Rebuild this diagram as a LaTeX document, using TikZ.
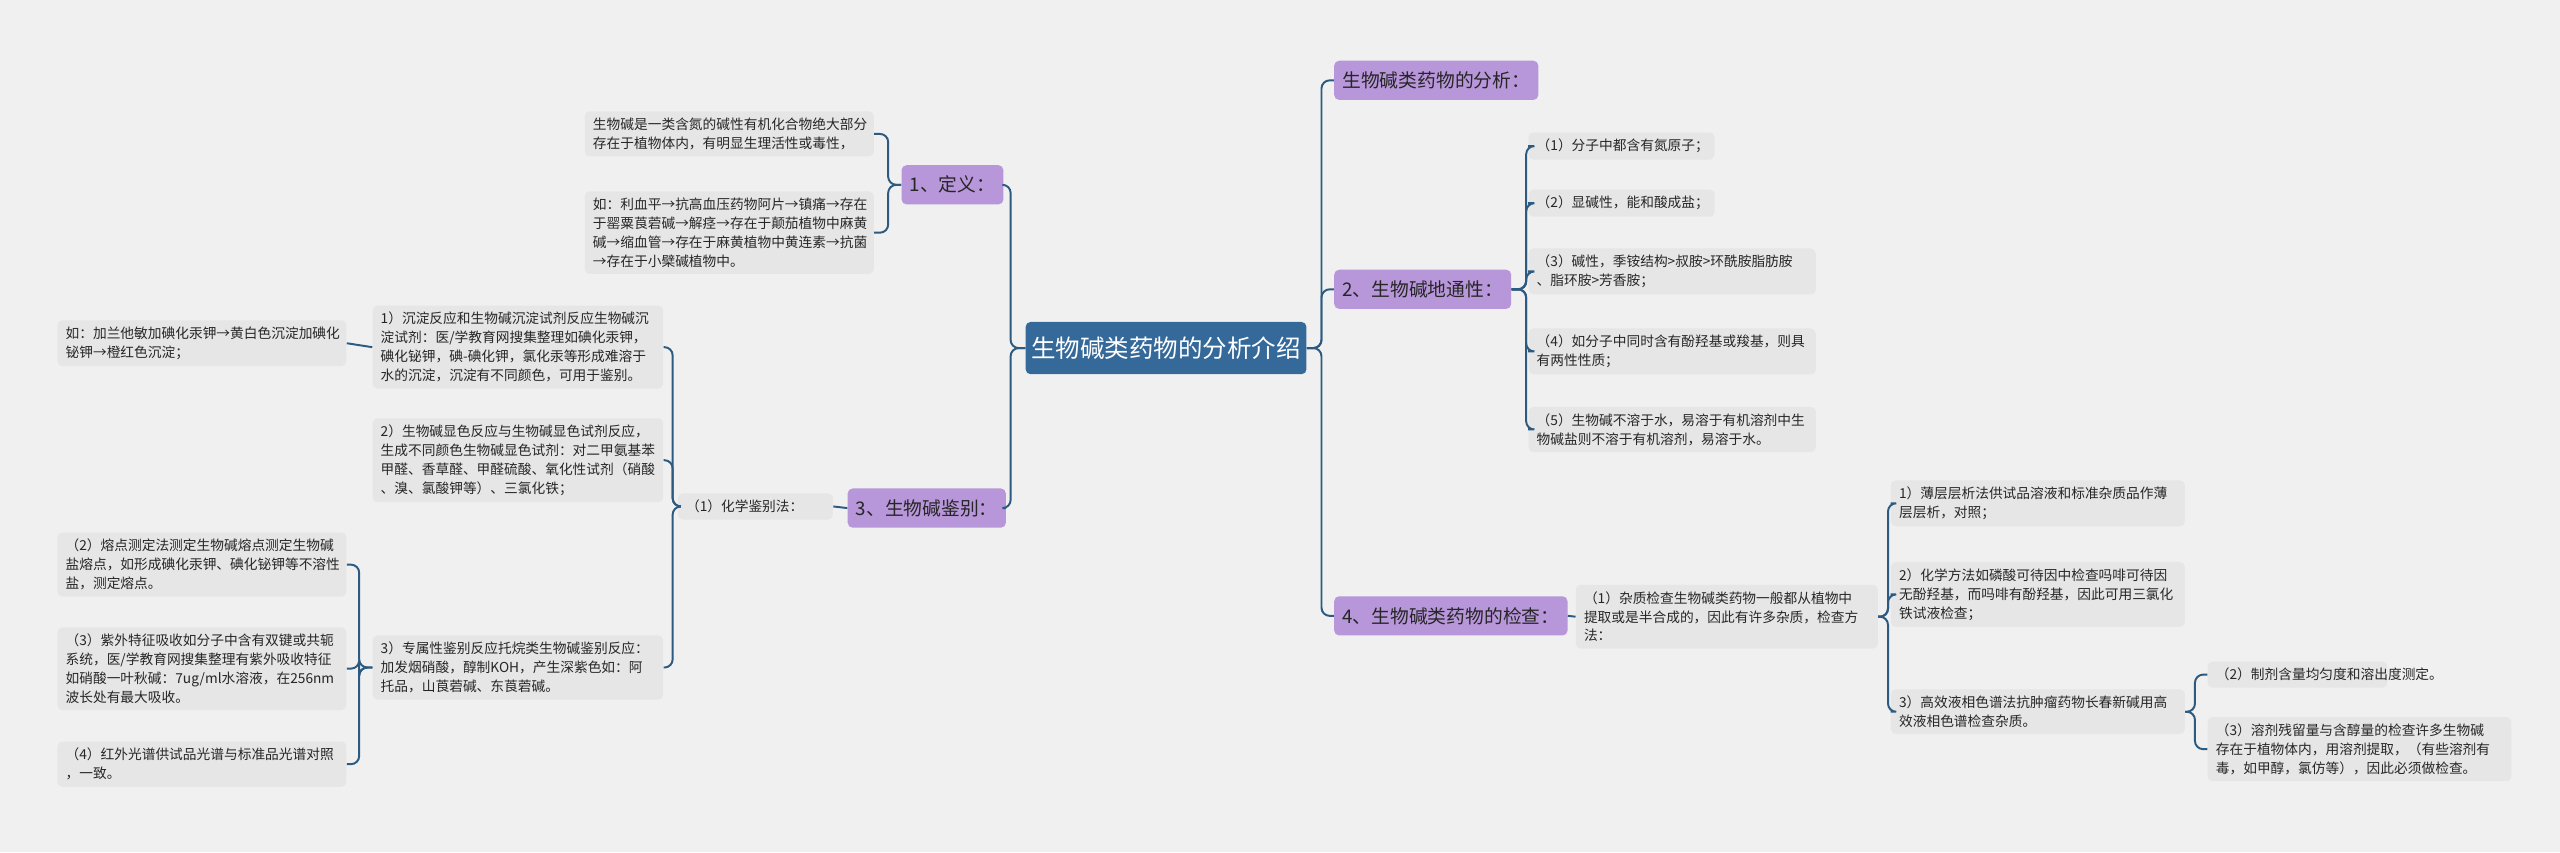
\documentclass[tikz,border=0pt]{standalone}
\usepackage{fontspec}
\setmainfont{Noto Sans CJK SC}
\begin{document}
\begin{tikzpicture}[x=1pt,y=1pt,
 leaf/.style={anchor=north west,fill=leafc,rounded corners=3pt,align=left,inner xsep=5pt,inner ysep=4pt,font=\fontsize{8.4}{11.6}\selectfont,text=black!85},
 main/.style={anchor=north west,fill=purp,rounded corners=3pt,inner xsep=5pt,minimum height=24pt,font=\fontsize{11.5}{13}\selectfont,text=black!85},
 conn/.style={draw=linec,line width=1.2pt,rounded corners=5pt}]
\definecolor{bg}{HTML}{F0F0F0}
\definecolor{leafc}{HTML}{E6E6E6}
\definecolor{purp}{HTML}{B896DA}
\definecolor{linec}{HTML}{2C5A80}
\definecolor{rootc}{HTML}{35699A}
\fill[bg] (0,0) rectangle (1568,-522);
\useasboundingbox (0,0) rectangle (1568,-522);
% root
\node[anchor=north west,fill=rootc,rounded corners=3pt,minimum width=172pt,minimum height=32pt,text=white,font=\fontsize{15}{17}\selectfont] (root) at (628,-197) {生物碱类药物的分析介绍};
% right mains
\node[main,minimum width=118pt] (r0) at (817,-37) {生物碱类药物的分析：};
\node[main,minimum width=101pt] (r2) at (817,-165) {2、生物碱地通性：};
\node[main,minimum width=134pt] (r4) at (817,-365) {4、生物碱类药物的检查：};
% left mains
\node[main,minimum width=58pt] (l1) at (552,-101) {1、定义：};
\node[main,minimum width=91pt] (l3) at (519,-299) {3、生物碱鉴别：};
% children of 2
\node[leaf,text width=104pt] (a1) at (936,-81) {（1）分子中都含有氮原子；};
\node[leaf,text width=104pt] (a2) at (936,-116) {（2）显碱性，能和酸成盐；};
\node[leaf,text width=166pt] (a3) at (936,-152) {（3）碱性，季铵结构>叔胺>环酰胺脂肪胺\\、脂环胺>芳香胺；};
\node[leaf,text width=166pt] (a4) at (936,-201) {（4）如分子中同时含有酚羟基或羧基，则具\\有两性性质；};
\node[leaf,text width=166pt] (a5) at (936,-249) {（5）生物碱不溶于水，易溶于有机溶剂中生\\物碱盐则不溶于有机溶剂，易溶于水。};
% children of 4
\node[leaf,text width=175pt] (b1) at (965,-358) {（1）杂质检查生物碱类药物一般都从植物中\\提取或是半合成的，因此有许多杂质，检查方\\法：};
\node[leaf,text width=170pt] (c1) at (1158,-294) {1）薄层层析法供试品溶液和标准杂质品作薄\\层层析，对照；};
\node[leaf,text width=170pt] (c2) at (1158,-344) {2）化学方法如磷酸可待因中检查吗啡可待因\\无酚羟基，而吗啡有酚羟基，因此可用三氯化\\铁试液检查；};
\node[leaf,text width=170pt] (c3) at (1158,-422) {3）高效液相色谱法抗肿瘤药物长春新碱用高\\效液相色谱检查杂质。};
\node[leaf,text width=100pt] (d1) at (1352,-405) {（2）制剂含量均匀度和溶出度测定。};
\node[leaf,text width=176pt] (d2) at (1352,-439) {（3）溶剂残留量与含醇量的检查许多生物碱\\存在于植物体内，用溶剂提取，（有些溶剂有\\毒，如甲醇，氯仿等），因此必须做检查。};
% children of 1
\node[leaf,text width=167pt] (e1) at (358,-68) {生物碱是一类含氮的碱性有机化合物绝大部分\\存在于植物体内，有明显生理活性或毒性，};
\node[leaf,text width=167pt] (e2) at (358,-117) {如：利血平→抗高血压药物阿片→镇痛→存在\\于罂粟莨菪碱→解痉→存在于颠茄植物中麻黄\\碱→缩血管→存在于麻黄植物中黄连素→抗菌\\→存在于小檗碱植物中。};
% children of 3
\node[leaf,text width=85pt] (f0) at (415,-302) {（1）化学鉴别法：};
\node[leaf,text width=168pt] (g1) at (228,-187) {1）沉淀反应和生物碱沉淀试剂反应生物碱沉\\淀试剂：医/学教育网搜集整理如碘化汞钾，\\碘化铋钾，碘-碘化钾，氯化汞等形成难溶于\\水的沉淀，沉淀有不同颜色，可用于鉴别。};
\node[leaf,text width=168pt] (g2) at (228,-256) {2）生物碱显色反应与生物碱显色试剂反应，\\生成不同颜色生物碱显色试剂：对二甲氨基苯\\甲醛、香草醛、甲醛硫酸、氧化性试剂（硝酸\\、溴、氯酸钾等）、三氯化铁；};
\node[leaf,text width=168pt] (g3) at (228,-389) {3）专属性鉴别反应托烷类生物碱鉴别反应：\\加发烟硝酸，醇制KOH，产生深紫色如：阿\\托品，山莨菪碱、东莨菪碱。};
\node[leaf,text width=167pt] (h1) at (35,-196) {如：加兰他敏加碘化汞钾→黄白色沉淀加碘化\\铋钾→橙红色沉淀；};
\node[leaf,text width=167pt] (h2) at (35,-326) {（2）熔点测定法测定生物碱熔点测定生物碱\\盐熔点，如形成碘化汞钾、碘化铋钾等不溶性\\盐，测定熔点。};
\node[leaf,text width=167pt] (h3) at (35,-384) {（3）紫外特征吸收如分子中含有双键或共轭\\系统，医/学教育网搜集整理有紫外吸收特征\\如硝酸一叶秋碱：7ug/ml水溶液，在256nm\\波长处有最大吸收。};
\node[leaf,text width=167pt] (h4) at (35,-454) {（4）红外光谱供试品光谱与标准品光谱对照\\，一致。};
% connectors right
\foreach \c in {r0,r2,r4} \draw[conn] (root.east) -- ++(9,0) |- (\c.west);
\foreach \c in {a1,a2,a3,a4,a5} \draw[conn] (r2.east) -- ++(9,0) |- (\c.west);
\draw[conn] (r4.east) -- (b1.west);
\foreach \c in {c1,c2,c3} \draw[conn] (b1.east) -- ++(6,0) |- (\c.west);
\foreach \c in {d1,d2} \draw[conn] (c3.east) -- ++(6,0) |- (\c.west);
% connectors left
\foreach \c in {l1,l3} \draw[conn] (root.west) -- ++(-9,0) |- (\c.east);
\foreach \c in {e1,e2} \draw[conn] (l1.west) -- ++(-8,0) |- (\c.east);
\draw[conn] (l3.west) -- (f0.east);
\foreach \c in {g1,g2,g3} \draw[conn] (f0.west) -- ++(-3,0) |- (\c.east);
\draw[conn] (g1.west) -- (h1.east);
\foreach \c in {h2,h3,h4} \draw[conn] (g3.west) -- ++(-8,0) |- (\c.east);
\end{tikzpicture}
\end{document}
